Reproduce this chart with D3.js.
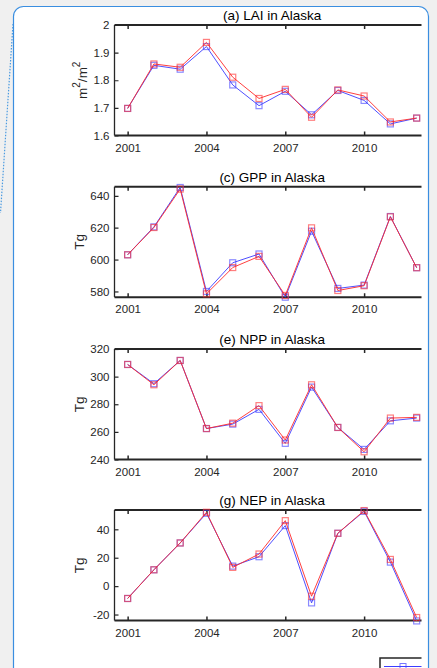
<!DOCTYPE html>
<html><head><meta charset="utf-8">
<script src="https://cdn.jsdelivr.net/npm/d3@7"></script>
<style>html,body{margin:0;padding:0;background:#f0f0f0;overflow:hidden}</style>
</head><body>
<svg id="c" width="437" height="668"></svg>
<script>
const years = [2001,2002,2003,2004,2005,2006,2007,2008,2009,2010,2011,2012];
const xTicks = [2001,2004,2007,2010];

const titles = ["(a) LAI in Alaska","(c) GPP in Alaska","(e) NPP in Alaska","(g) NEP in Alaska"];
const yLabels = ["m²/m²","Tg","Tg","Tg"];
const yDomains = [[1.6,2.0],[576.4,645.7],[240,320],[-24.2,53.6]];
const yTicks = [[1.6,1.7,1.8,1.9,2],[580,600,620,640],[240,260,280,300,320],[-20,0,20,40]];

const laiBlue = [1.698,1.854,1.840,1.922,1.783,1.708,1.760,1.675,1.763,1.727,1.642,1.663];
const laiRed  = [1.698,1.859,1.847,1.937,1.811,1.734,1.767,1.666,1.765,1.743,1.649,1.663];
const gppBlue = [603.0,620.5,645.2,580.0,598.0,603.5,576.4,617.8,581.9,584.0,627.0,594.9];
const gppRed  = [603.0,620.1,644.2,578.5,595.0,602.0,577.5,619.9,580.6,583.6,626.8,594.9];
const nppBlue = [308.8,294.9,311.7,262.4,265.6,276.3,251.7,292.4,263.2,247.3,268.0,270.0];
const nppRed  = [308.8,294.1,311.7,262.4,266.3,279.0,254.1,294.1,263.2,245.6,270.0,270.5];
const nepBlue = [-8.7,11.5,30.4,51.3,14.1,20.7,42.6,-11.8,37.2,52.7,16.9,-24.5];
const nepRed  = [-8.7,11.5,30.4,52.0,13.2,22.6,46.1,-7.1,37.2,53.2,18.8,-22.1];

const blueSeries = [laiBlue,gppBlue,nppBlue,nepBlue];
const redSeries = [laiRed,gppRed,nppRed,nepRed];

const panelTops = [25,186.7,349,510];
const panelH = 110.5;

const svg = d3.select("#c");
const font = "'Liberation Sans', Arial, sans-serif";
const ink = "#262626";
const fmt = d => String(d);

// dotted artefact line on the left
svg.append("line").attr("x1",13).attr("y1",24).attr("x2",0.5).attr("y2",213)
  .attr("stroke","#4a9ae0").attr("stroke-width",1.2).attr("stroke-dasharray","1.5,1.5");

// card
svg.append("rect").attr("x",13.5).attr("y",6.5).attr("width",415).attr("height",720).attr("rx",10)
  .attr("fill","#ffffff").attr("stroke","#3a8ee0").attr("stroke-width",1.2);

svg.append("defs").append("clipPath").attr("id","clip")
  .append("rect").attr("x",14).attr("y",7).attr("width",407.5).attr("height",670);

const g = svg.append("g").attr("clip-path","url(#clip)");

const x = d3.scaleLinear().domain([2000.5,2012.5]).range([114.5,429.8]);

const blue = "#3c3cff", red = "#ff2a2a";

for (let i=0;i<4;i++){
  const top = panelTops[i], bot = top+panelH;
  const y = d3.scaleLinear().domain(yDomains[i]).range([bot,top]);
  const p = g.append("g");

  p.append("text").attr("x",(114.5+429.8)/2).attr("y",top-5)
    .attr("text-anchor","middle").attr("font-family",font).attr("font-size",13.5)
    .attr("fill","#000").text(titles[i]);

  const xb = p.append("g").attr("transform",`translate(0,${bot})`)
    .call(d3.axisBottom(x).tickValues(xTicks).tickFormat(fmt).tickSize(-4).tickSizeOuter(0).tickPadding(8));
  xb.select(".domain").remove();
  xb.selectAll("line").attr("stroke",ink).attr("stroke-width",1.5);
  xb.selectAll("text").attr("font-family",font).attr("font-size",11.5).attr("fill",ink);
  const xt = p.append("g").attr("transform",`translate(0,${top})`)
    .call(d3.axisTop(x).tickValues(xTicks).tickFormat("").tickSize(-4).tickSizeOuter(0));
  xt.select(".domain").remove();
  xt.selectAll("line").attr("stroke",ink).attr("stroke-width",1.5);

  const ya = p.append("g").attr("transform",`translate(114.5,0)`)
    .call(d3.axisLeft(y).tickValues(yTicks[i]).tickFormat(fmt).tickSize(-4).tickSizeOuter(0).tickPadding(5));
  ya.select(".domain").remove();
  ya.selectAll("line").attr("stroke",ink).attr("stroke-width",1.2);
  ya.selectAll("text").attr("font-family",font).attr("font-size",11.5).attr("fill",ink);

  p.append("line").attr("x1",114.5).attr("x2",429.8).attr("y1",top).attr("y2",top).attr("stroke",ink).attr("stroke-width",2);
  p.append("line").attr("x1",114.5).attr("x2",429.8).attr("y1",bot).attr("y2",bot).attr("stroke",ink).attr("stroke-width",2);
  p.append("line").attr("x1",114.5).attr("x2",114.5).attr("y1",top).attr("y2",bot).attr("stroke",ink).attr("stroke-width",1.3);

  const lx = i===0 ? 83 : 80;
  const lt = p.append("text").attr("transform",`translate(${lx},${(top+bot)/2}) rotate(-90)`)
    .attr("text-anchor","middle").attr("dominant-baseline","middle").attr("font-family",font).attr("font-size",13.5).attr("fill",ink);
  if (i===0){
    lt.append("tspan").text("m");
    lt.append("tspan").attr("baseline-shift","super").attr("font-size",10).text("2");
    lt.append("tspan").text("/m");
    lt.append("tspan").attr("baseline-shift","super").attr("font-size",10).text("2");
  } else lt.text(yLabels[i]);

  const line = d3.line().x((d,j)=>x(years[j])).y(d=>y(d));
  [[blueSeries[i],blue],[redSeries[i],red]].forEach(([vals,col])=>{
    p.append("path").datum(vals).attr("d",line).attr("fill","none").attr("stroke",col).attr("stroke-width",1).attr("stroke-opacity",0.9);
    p.selectAll(null).data(vals).enter().append("rect")
      .attr("x",(d,j)=>x(years[j])-3).attr("y",d=>y(d)-3).attr("width",6).attr("height",6)
      .attr("fill","none").attr("stroke",col).attr("stroke-opacity",0.6).attr("stroke-width",1.2);
  });
}

const lg = g.append("g");
lg.append("rect").attr("x",380).attr("y",658).attr("width",60).attr("height",30).attr("fill","#fff").attr("stroke",ink).attr("stroke-width",1.5);
lg.append("line").attr("x1",384).attr("x2",440).attr("y1",666.5).attr("y2",666.5).attr("stroke",blue).attr("stroke-width",1);
lg.append("rect").attr("x",400).attr("y",663.5).attr("width",6).attr("height",6).attr("fill","none").attr("stroke",blue).attr("stroke-opacity",0.7);
</script>
</body></html>
